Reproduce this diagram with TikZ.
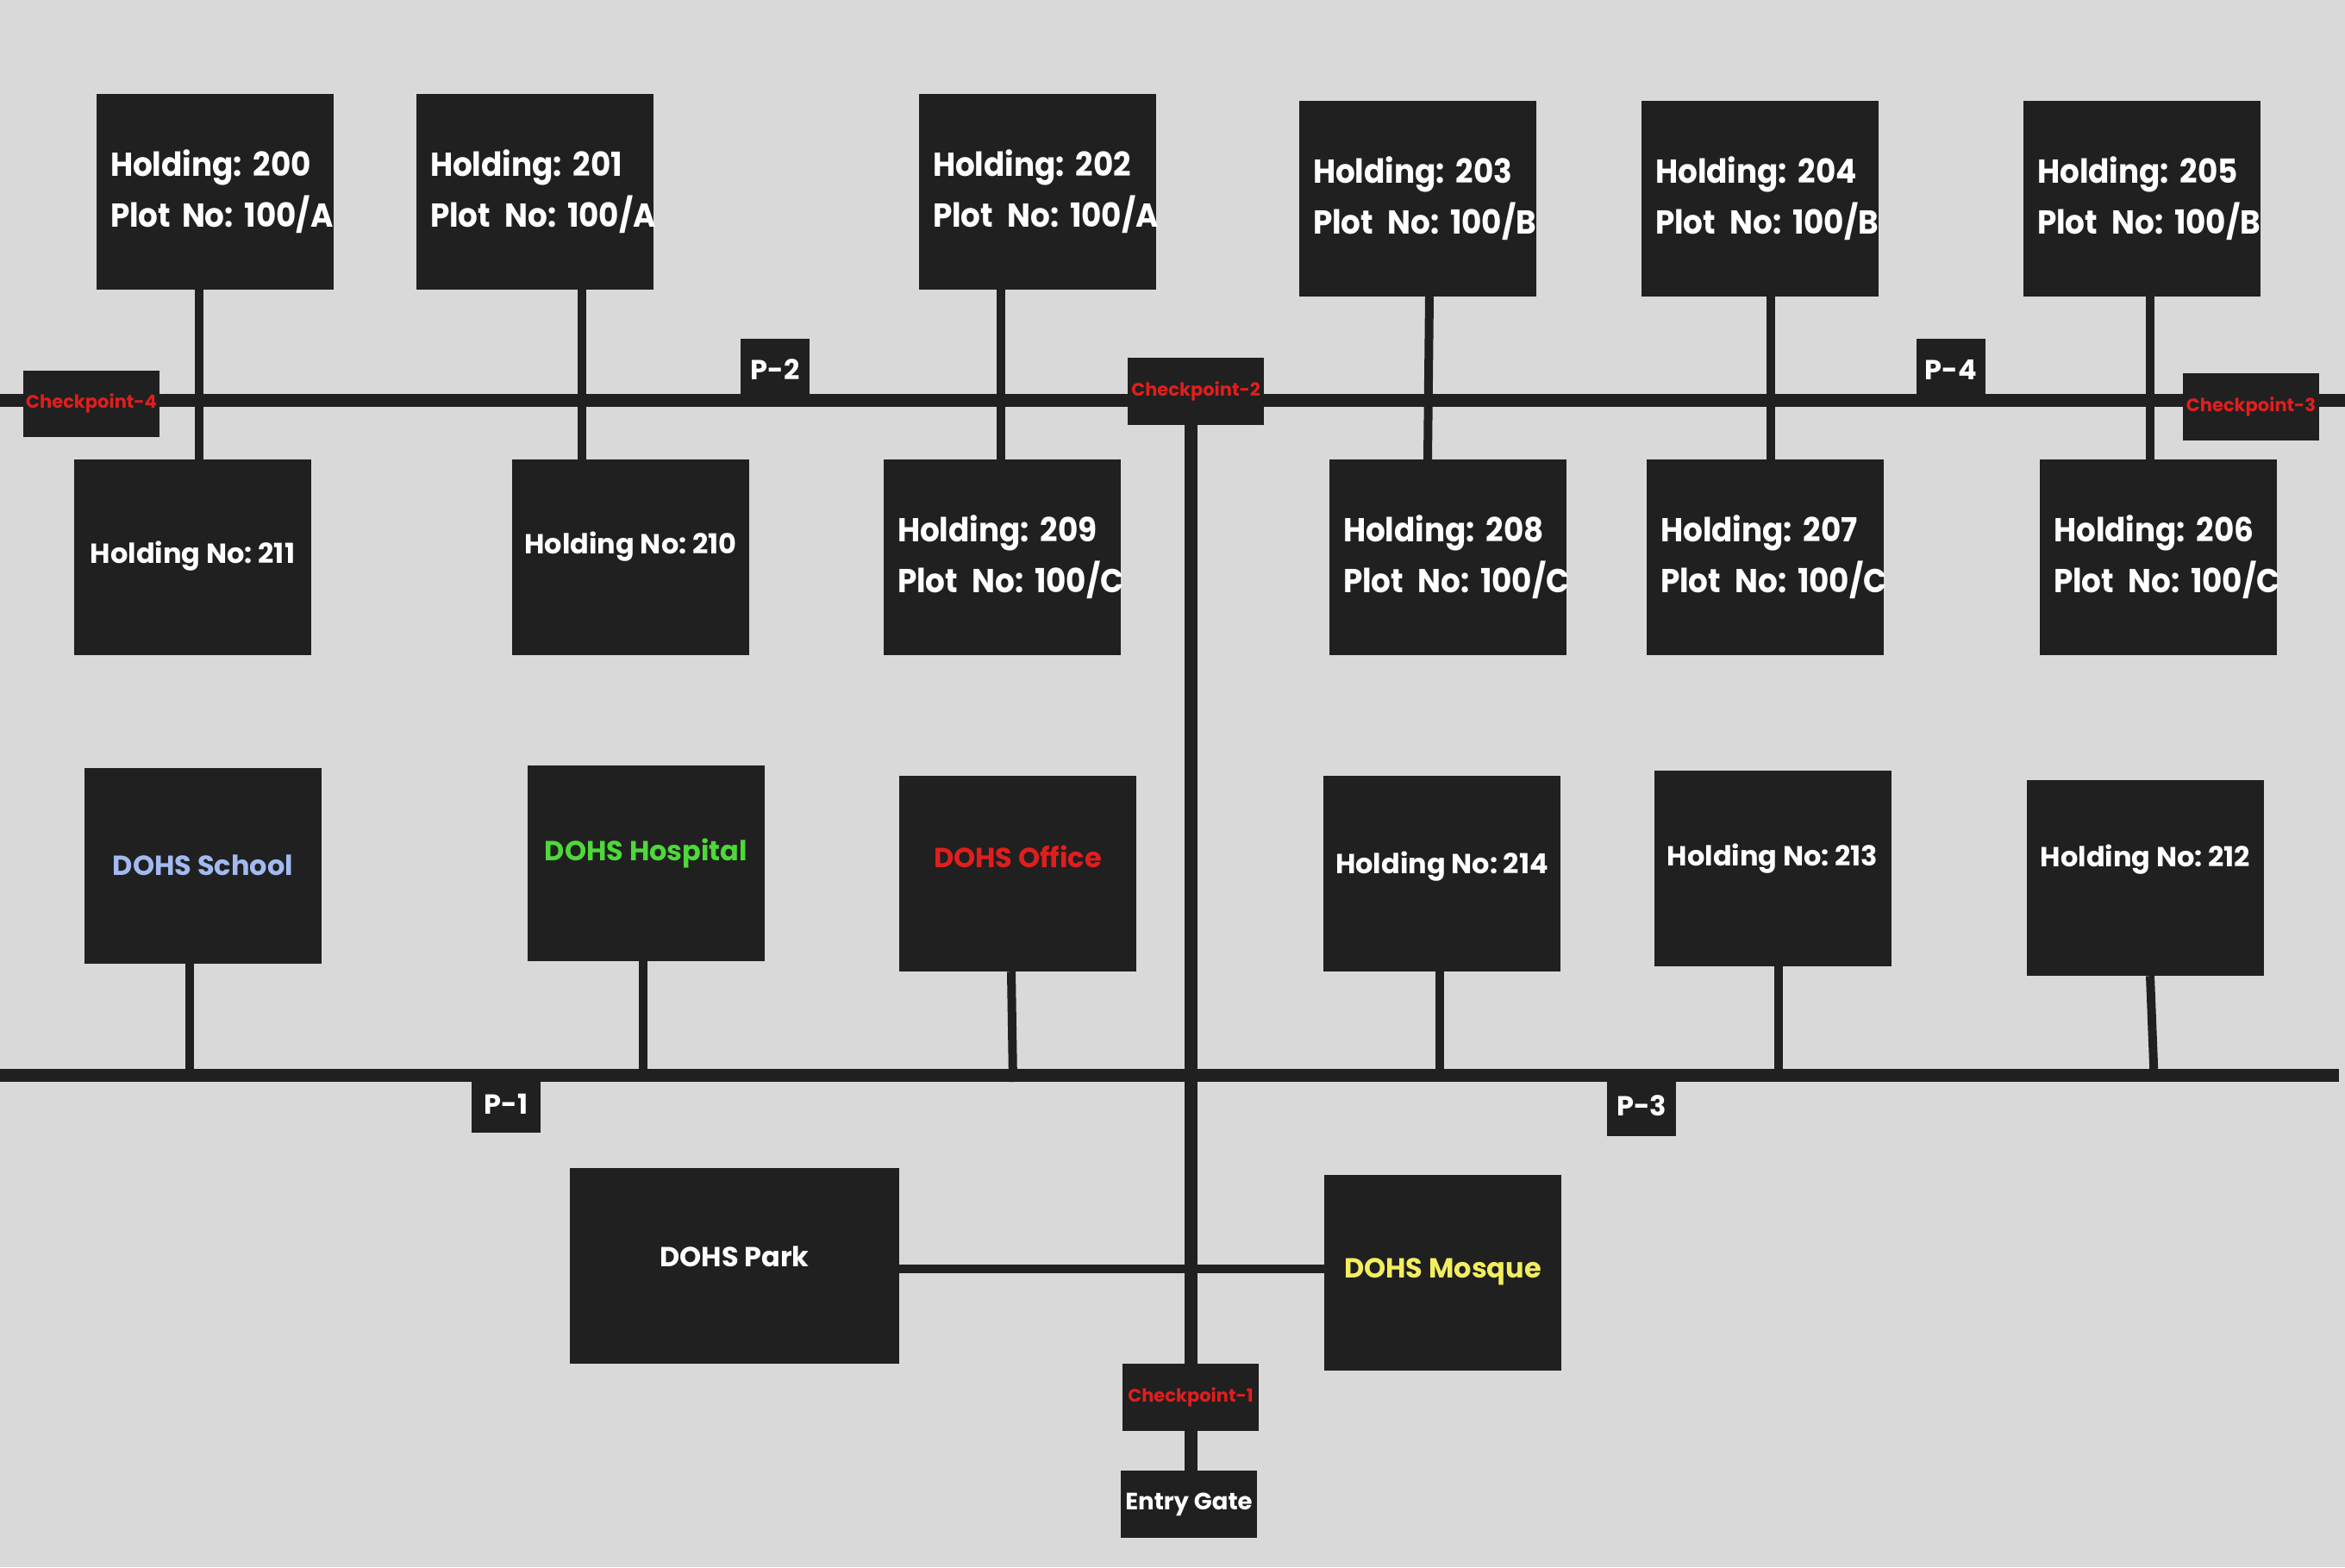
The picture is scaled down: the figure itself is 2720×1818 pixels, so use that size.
\documentclass[tikz,border=0pt]{standalone}
\usepackage{fontspec}
\setmainfont{Poppins}
\newfontfamily\narrowfont{Poppins}[FakeStretch=0.93]
\definecolor{bgc}{HTML}{D9D9D9}
\definecolor{boxc}{HTML}{202020}
\definecolor{redc}{HTML}{E01E1E}
\definecolor{schoolc}{HTML}{A2BAF0}
\definecolor{hospc}{HTML}{4ED83A}
\definecolor{mosquec}{HTML}{F2EE60}
\newcommand\lift[2]{\raisebox{#1}[\height][\depth]{#2}}
\newcommand\gap{\hspace{0.42em}}
\pgfdeclarelayer{back}
\pgfdeclarelayer{mid}
\pgfsetlayers{back,mid,main}
\begin{document}
\frenchspacing
\begin{tikzpicture}[x=1pt,y=-1pt,
  box/.style={fill=boxc, draw=none, inner sep=0pt, minimum width=275pt, minimum height=227pt, text=white},
  twoline/.style={box, font=\narrowfont\fontsize{38.5}{59}\selectfont\bfseries\frenchspacing, align=left, text width=243pt},
  oneline/.style={box, font=\fontsize{32}{37}\selectfont\bfseries\frenchspacing},
  cpbox/.style={fill=boxc, draw=none, inner sep=0pt, minimum width=158pt, minimum height=78pt, text=redc, font=\fontsize{21}{25}\selectfont\bfseries},
  pbox/.style={fill=boxc, draw=none, inner sep=0pt, minimum width=80pt, text=white, font=\fontsize{32}{38}\selectfont\bfseries},
  gatebox/.style={fill=boxc, draw=none, inner sep=0pt, minimum width=158pt, minimum height=78pt, text=white, font=\fontsize{27.5}{32}\selectfont\bfseries},
  road/.style={line width=15pt, draw=boxc},
  conn/.style={line width=10pt, draw=boxc}]
\useasboundingbox (0,0) rectangle (2720,1818);
\begin{pgfonlayer}{back}
\fill[bgc] (0,0) rectangle (2720,1818);
\end{pgfonlayer}

% top row
\node[twoline] (h200) at (249.5,222.5) {\mbox{Holding: 200}\\\mbox{Plot No: 100/A}};
\node[twoline] (h201) at (620.5,222.5) {\mbox{Holding: 201}\\\mbox{Plot\gap No: 100/A}};
\node[twoline] (h202) at (1203.5,222.5) {\mbox{Holding: 202}\\\mbox{Plot\gap No: 100/A}};
\node[twoline] (h203) at (1644.5,230.5) {\mbox{Holding: 203}\\\mbox{Plot\gap No: 100/B}};
\node[twoline] (h204) at (2041.5,230.5) {\mbox{Holding: 204}\\\mbox{Plot\gap No: 100/B}};
\node[twoline] (h205) at (2484.5,230.5) {\mbox{Holding: 205}\\\mbox{Plot\gap No: 100/B}};

% second row
\node[oneline] (h211) at (223.5,646.5) {\lift{1.5pt}{Holding No: 211}};
\node[oneline] (h210) at (731.5,646.5) {\lift{12pt}{Holding No: 210}};
\node[twoline] (h209) at (1162.5,646.5) {\mbox{Holding: 209}\\\mbox{Plot\gap No: 100/C}};
\node[twoline] (h208) at (1679.5,646.5) {\mbox{Holding: 208}\\\mbox{Plot\gap No: 100/C}};
\node[twoline] (h207) at (2047.5,646.5) {\mbox{Holding: 207}\\\mbox{Plot\gap No: 100/C}};
\node[twoline] (h206) at (2503.5,646.5) {\mbox{Holding: 206}\\\mbox{Plot\gap No: 100/C}};

% checkpoints and road labels on top road
\node[cpbox, minimum height=77pt] (cp4) at (106,468) {Checkpoint-4};
\node[cpbox] (cp2) at (1387,454) {Checkpoint-2};
\node[cpbox] (cp3) at (2611,472) {Checkpoint-3};
\node[pbox, minimum height=72pt] (p2) at (899,429) {P-2};
\node[pbox, minimum height=72pt] (p4) at (2263,429) {P-4};

% third row
\node[oneline, text=schoolc] (school) at (235.5,1004.5) {\lift{1pt}{DOHS School}};
\node[oneline, text=hospc] (hosp) at (749.5,1001.5) {\lift{11.5pt}{DOHS Hospital}};
\node[oneline, text=redc] (office) at (1180.5,1013.5) {\lift{20pt}{DOHS Office}};
\node[oneline] (h214) at (1672.5,1013.5) {\lift{8pt}{Holding No: 214}};
\node[oneline] (h213) at (2056,1007.5) {\lift{11pt}{Holding No: 213}};
\node[oneline] (h212) at (2488.5,1018.5) {\lift{21pt}{Holding No: 212}};

% bottom road labels
\node[pbox, minimum height=67pt] (p1) at (587,1280.5) {P-1};
\node[pbox, minimum height=71pt] (p3) at (1904,1282.5) {P-3};

% bottom area
\node[oneline, minimum width=382pt] (park) at (852,1468.5) {\lift{11pt}{DOHS Park}};
\node[oneline, text=mosquec] (mosque) at (1673.5,1476.5) {\lift{1.5pt}{DOHS Mosque}};
\node[cpbox] (cp1) at (1381,1621) {Checkpoint-1};
\node[gatebox] (gate) at (1379,1745) {Entry Gate};

% road ends and junctions
\coordinate (tw) at (0,464.5);
\coordinate (te) at (2720,464.5);
\coordinate (bw) at (0,1247.5);
\coordinate (be) at (2713,1247.5);
\coordinate (jschool) at (219.5,1247.5);
\coordinate (jhosp) at (746,1247.5);
\coordinate (joffice) at (1175,1255);
\coordinate (j214) at (1670,1247.5);
\coordinate (j213) at (2063,1247.5);
\coordinate (j212) at (2498.5,1247.5);

\begin{pgfonlayer}{mid}
\draw[road] (tw) -- (te);
\draw[road] (bw) -- (be);
\draw[road] ([xshift=-5.5pt]cp2.south) -- ([xshift=0.5pt]cp1.north);
\draw[road] ([xshift=0.5pt]cp1.south) -- ([xshift=2.5pt]gate.north);
% top connectors
\draw[conn] ([xshift=-18.5pt]h200.south) -- ([xshift=7.5pt]h211.north);
\draw[conn] ([xshift=54.5pt]h201.south) -- ([xshift=-56.5pt]h210.north);
\draw[conn] ([xshift=-42.5pt]h202.south) -- ([xshift=-1.5pt]h209.north);
\draw[conn] ([xshift=13.5pt]h203.south) -- ([xshift=-23.5pt]h208.north);
\draw[conn] ([xshift=12.5pt]h204.south) -- ([xshift=6.5pt]h207.north);
\draw[conn] ([xshift=9.5pt]h205.south) -- ([xshift=-9.5pt]h206.north);
% lower connectors
\draw[conn] ([xshift=-16pt]school.south) -- (jschool);
\draw[conn] ([xshift=-3.5pt]hosp.south) -- (jhosp);
\draw[conn] ([xshift=-7.5pt]office.south) -- (joffice);
\draw[conn] ([xshift=-2.5pt]h214.south) -- (j214);
\draw[conn] ([xshift=7pt]h213.south) -- (j213);
\draw[conn] ([xshift=5.5pt]h212.south) -- (j212);
\draw[conn] ([yshift=-3.5pt]park.east) -- ([yshift=4.5pt]mosque.west);
\end{pgfonlayer}
\end{tikzpicture}
\end{document}
